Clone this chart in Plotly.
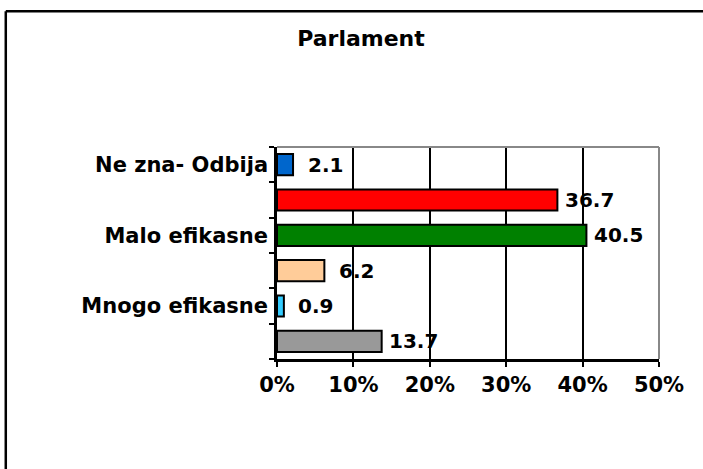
import plotly.graph_objects as go

# Data (bottom to top)
categories = ["   ", "Mnogo efikasne", "  ", "Malo efikasne", " ", "Ne zna- Odbija"]
values = [13.7, 0.9, 6.2, 40.5, 36.7, 2.1]
colors = ["#999999", "#33CCFF", "#FFCC99", "#008000", "#FF0000", "#0066CC"]
x_ticks = [0, 10, 20, 30, 40, 50]
x_tick_labels = ["0%", "10%", "20%", "30%", "40%", "50%"]
title_text = "Parlament"

FONT = "DejaVu Sans"

fig = go.Figure()
fig.add_trace(go.Bar(
    x=values,
    y=categories,
    orientation="h",
    marker=dict(color=colors, line=dict(color="black", width=2)),
    hoverinfo="skip",
))

for v, c in zip(values, categories):
    fig.add_annotation(
        x=v, y=c, xref="x", yref="y",
        text=f"{v:.1f}", showarrow=False,
        xanchor="center", yanchor="middle", xshift=32,
        font=dict(family=FONT, size=20, color="black", weight="bold"),
    )

# plot-area top and right border (gray)
fig.add_shape(type="line", xref="paper", yref="paper", x0=0, x1=1, y0=1, y1=1,
              line=dict(color="#888888", width=2), layer="above")
fig.add_shape(type="line", xref="paper", yref="paper", x0=1, x1=1, y0=0, y1=1,
              line=dict(color="#888888", width=2), layer="above")
# outer chart border (only top and left visible)
fig.add_shape(type="line", xref="paper", yref="paper",
              x0=-0.71, x1=3.0, y0=1.64, y1=1.64,
              line=dict(color="black", width=2.5), layer="above")
fig.add_shape(type="line", xref="paper", yref="paper",
              x0=-0.71, x1=-0.71, y0=-2.0, y1=1.64,
              line=dict(color="black", width=2.5), layer="above")

fig.update_layout(
    width=703, height=469,
    margin=dict(l=277, r=44, t=147, b=110),
    paper_bgcolor="white", plot_bgcolor="white",
    showlegend=False,
    bargap=0.4,
    title=dict(text=title_text, x=0.5135, xref="container", xanchor="center",
               y=0.918, yref="container", yanchor="middle",
               font=dict(family=FONT, size=22, color="black", weight="bold")),
    xaxis=dict(
        range=[0, 50], tickvals=x_ticks, ticktext=x_tick_labels,
        showgrid=True, gridcolor="black", gridwidth=1.5,
        showline=True, linecolor="black", linewidth=2.5,
        ticks="outside", ticklen=5, tickwidth=2, tickcolor="black",
        zeroline=False, fixedrange=True,
        tickfont=dict(family=FONT, size=21, color="black", weight="bold"),
    ),
    yaxis=dict(
        type="category", categoryorder="array", categoryarray=categories,
        tickson="boundaries",
        showgrid=False, showline=True, linecolor="black", linewidth=2.5,
        ticks="outside", ticklen=5, tickwidth=1.5, tickcolor="black",
        zeroline=False, fixedrange=True, ticklabelstandoff=2,
        tickfont=dict(family=FONT, size=21, color="black", weight="bold"),
    ),
)

fig.write_html(
    "out.html",
    config={"displayModeBar": False},
    post_script="document.body.style.margin='0';document.body.style.overflow='hidden';",
)
